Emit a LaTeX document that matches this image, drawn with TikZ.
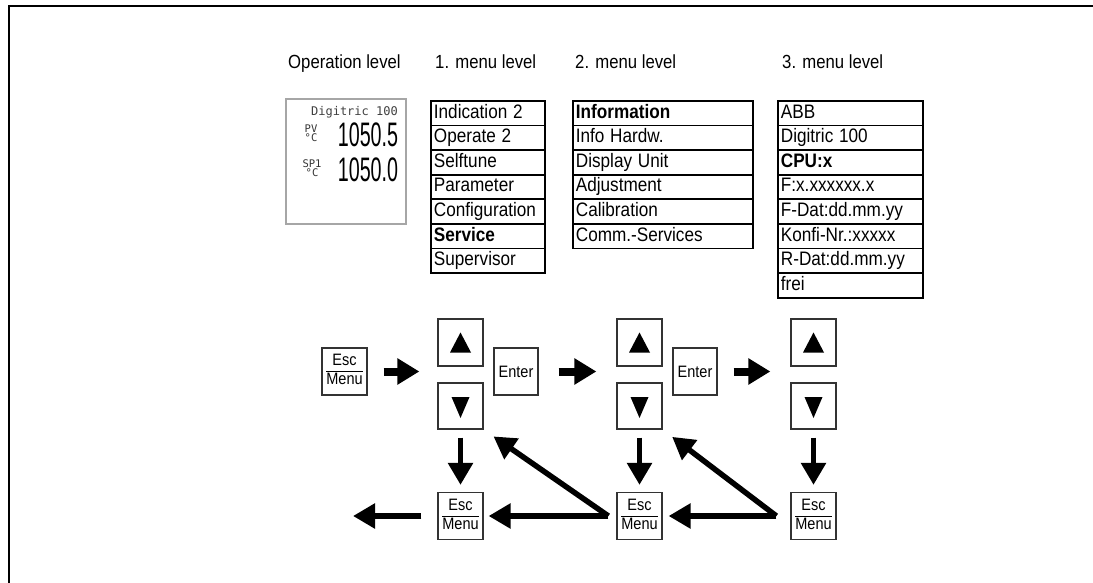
\documentclass[tikz,border=0pt]{standalone}
\usepackage{fontspec}
\usepackage{graphicx}
\setmainfont{Liberation Sans}
\newfontfamily\lcdfont{DejaVu Sans Mono}
\usetikzlibrary{arrows.meta}
\newcommand{\narrow}[1]{\scalebox{0.88}[1]{#1}}
\newcommand{\escmenu}{\renewcommand{\arraystretch}{1.12}\begin{tabular}{@{}c@{}}\narrow{Esc}\\\hline \narrow{Menu}\end{tabular}}

\tikzset{
  leveltitle/.style={anchor=base west, inner sep=0pt, font=\fontsize{19}{19}\selectfont},
  menurow/.style={draw, line width=1.8pt, anchor=north west, inner xsep=3pt, inner ysep=0pt,
    text width=#1, minimum height=24.6pt, text height=14pt, text depth=4pt, align=left,
    font=\fontsize{19.5}{19.5}\selectfont},
  keybtn/.style={draw=black!80, line width=1.2pt, minimum width=45pt, minimum height=47pt,
    inner sep=0pt, font=\fontsize{16.5}{16.5}\selectfont},
  fatarrow/.style={line width=8pt, -{Triangle[length=22pt,width=25pt]}},
  slimarrow/.style={line width=5.5pt, -{Triangle[length=22pt,width=24pt]}},
}

\begin{document}
\begin{tikzpicture}[x=1pt,y=-1pt]
    \useasboundingbox (0,0) rectangle (1093,583);
    \draw[line width=1.5pt] (1093,6) -- (9,6) -- (9,583);

    \node[leveltitle] (t0) at (288,69) {\narrow{Operation level}};
    \node[leveltitle] (t1) at (435,69) {\narrow{1. menu level}};
    \node[leveltitle] (t2) at (575,69) {\narrow{2. menu level}};
    \node[leveltitle] (t3) at (782,69) {\narrow{3. menu level}};

    \node[draw=black!35, line width=1.5pt, minimum width=120pt, minimum height=125pt, inner sep=0pt] (disp) at (346,161.5) {};
    \node[anchor=east, inner sep=0pt, text=black!75, font=\lcdfont\fontsize{12}{12}\selectfont] (dname) at (398,112) {Digitric 100};
    \node[align=center, inner sep=0pt, text=black!80, font=\lcdfont\fontsize{10.5}{9.5}\selectfont] (pvlbl) at (311,133) {PV\\°C};
    \node[align=center, inner sep=0pt, text=black!80, font=\lcdfont\fontsize{10.5}{9.5}\selectfont] (splbl) at (312,168) {SP1\\°C};
    \node[inner sep=0pt, font=\fontsize{34}{34}\selectfont] (pvval) at (368,135) {\scalebox{0.58}[1]{1050.5}};
    \node[inner sep=0pt, font=\fontsize{34}{34}\selectfont] (spval) at (368,170) {\scalebox{0.58}[1]{1050.0}};

    \foreach \txt [count=\i] in {Indication 2, Operate 2, Selftune, Parameter, Configuration, \textbf{Service}, Supervisor}
        \node[menurow=108pt] (ma\i) at (430,{100+24.6*(\i-1)}) {\narrow{\txt}};
    \foreach \txt [count=\i] in {\textbf{Information}, Info Hardw., Display Unit, Adjustment, Calibration, Comm.-Services}
        \node[menurow=174pt] (mb\i) at (572,{100+24.6*(\i-1)}) {\narrow{\txt}};
    \foreach \txt [count=\i] in {ABB, Digitric 100, \textbf{CPU:x}, F:x.xxxxxx.x, F-Dat:dd.mm.yy, Konfi-Nr.:xxxxx, R-Dat:dd.mm.yy, frei}
        \node[menurow=139pt] (mc\i) at (777,{100+24.6*(\i-1)}) {\narrow{\txt}};

    \node[keybtn] (esc0) at (344.5,371.5) {\escmenu};
    \foreach \x [count=\n] in {460.5,639.5,813.5} {
        \node[keybtn] (up\n) at (\x,342.5) {};
        \node[keybtn, minimum height=46pt] (dn\n) at (\x,406) {};
        \node[keybtn] (esc\n) at (\x,516) {\escmenu};
        \fill ([shift={(0,-10)}]up\n.center) -- ([shift={(-10.5,10)}]up\n.center) -- ([shift={(10.5,10)}]up\n.center) -- cycle;
        \fill ([shift={(0,12)}]dn\n.center) -- ([shift={(-9,-9)}]dn\n.center) -- ([shift={(9,-9)}]dn\n.center) -- cycle;
        \draw[slimarrow, shorten <=8pt, shorten >=7pt] (dn\n) -- (esc\n);
    }
    \node[keybtn, minimum width=44pt] (ent1) at (516,371.5) {\narrow{Enter}};
    \node[keybtn, minimum width=44pt] (ent2) at (695,371.5) {\narrow{Enter}};

    \draw[fatarrow, shorten <=16pt, shorten >=18pt] (esc0.east) -- (esc0.east -| up1.west);
    \draw[fatarrow, shorten <=20pt, shorten >=20pt] (ent1.east) -- (ent1.east -| up2.west);
    \draw[fatarrow, shorten <=16pt, shorten >=20pt] (ent2.east) -- (ent2.east -| up3.west);

    \coordinate (jB) at ([xshift=-8pt]esc2.west);
    \coordinate (jC) at ([xshift=-14pt]esc3.west);
    \coordinate (out) at (353,516);
    \draw[slimarrow, shorten >=5pt] (jB) -- (esc1);
    \draw[slimarrow, shorten >=6pt] (jC) -- (esc2);
    \draw[slimarrow, shorten <=16pt] (esc1) -- (out);
    \draw[slimarrow, shorten >=12pt] (jB) -- (dn1.south east);
    \draw[slimarrow, shorten >=12pt] (jC) -- (dn2.south east);
\end{tikzpicture}
\end{document}
